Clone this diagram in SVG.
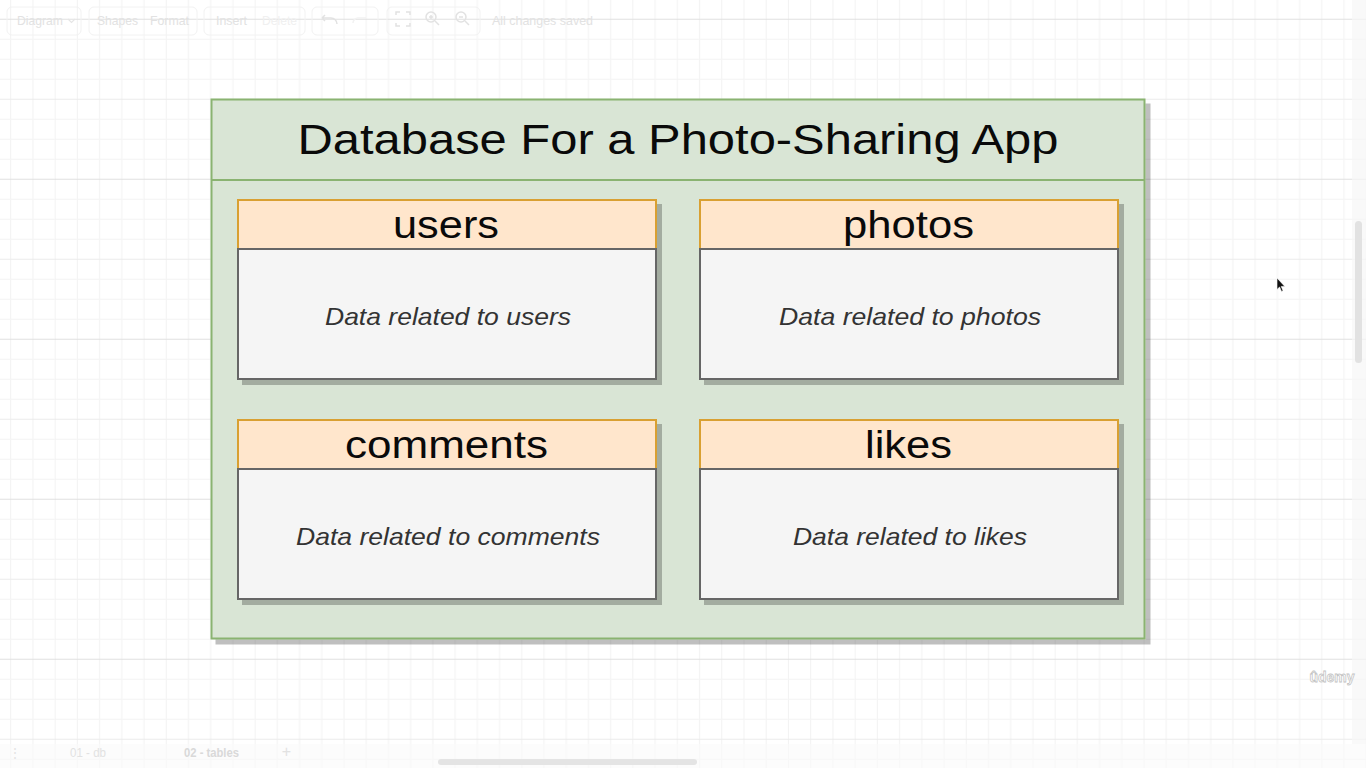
<svg xmlns="http://www.w3.org/2000/svg" width="1366" height="768" viewBox="0 0 1366 768">
<defs>
<pattern id="grid" patternUnits="userSpaceOnUse" x="0" y="0" width="88.89" height="160">
<path d="M10.7 0V160M32.9 0V160M55.1 0V160M77.3 0V160" stroke="#f2f2f2" stroke-width="1" fill="none"/>
<path d="M0 39.3H88.89M0 59.3H88.89M0 79.3H88.89M0 119.3H88.89M0 139.3H88.89M0 159.3H88.89" stroke="#f4f4f4" stroke-width="1" fill="none"/>
<path d="M0 99.3H88.89" stroke="#ebebeb" stroke-width="1" fill="none"/>
<path d="M0 19.3H88.89" stroke="#e0e0e0" stroke-width="1" fill="none"/>
</pattern>
<filter id="shadow" x="-5%" y="-5%" width="115%" height="120%">
<feDropShadow dx="5" dy="5" stdDeviation="0.6" flood-color="#000" flood-opacity="0.25"/>
</filter>
</defs>
<style>
.ui{font-family:"Liberation Sans",Arial,sans-serif;font-size:12px;fill:#e2e2e2}
.uibox{fill:none;stroke:#f2f2f2;stroke-width:1}
.title{font-family:"Liberation Sans",Arial,sans-serif;font-size:43px;fill:#0a0a0a;text-anchor:middle}
.hdr{fill:#ffe6cc;stroke:#d9a030;stroke-width:2}
.body{fill:#f5f5f5;stroke:#666;stroke-width:2}
.hname{font-family:"Liberation Sans",Arial,sans-serif;font-size:39px;fill:#0a0a0a;text-anchor:middle}
.desc{font-family:"Liberation Sans",Arial,sans-serif;font-size:24px;font-style:italic;fill:#333;text-anchor:middle}
</style>
<rect width="1366" height="768" fill="#ffffff"/>
<rect width="1366" height="768" fill="url(#grid)"/>

<g id="toolbar">
<rect class="uibox" x="7" y="7" width="74" height="28" rx="5"/>
<text class="ui" x="17" y="24.5" textLength="46" lengthAdjust="spacingAndGlyphs">Diagram</text>
<path d="M68 19l3.5 3.5 3.5-3.5" fill="none" stroke="#e6e6e6" stroke-width="1.2"/>
<rect class="uibox" x="89" y="7" width="108" height="28" rx="5"/>
<text class="ui" x="97" y="24.5" textLength="41" lengthAdjust="spacingAndGlyphs">Shapes</text>
<text class="ui" x="150" y="24.5" textLength="39" lengthAdjust="spacingAndGlyphs">Format</text>
<rect class="uibox" x="204" y="7" width="101" height="28" rx="5"/>
<text class="ui" x="216" y="24.5" textLength="31" lengthAdjust="spacingAndGlyphs">Insert</text>
<text class="ui" x="262" y="24.5" textLength="35" lengthAdjust="spacingAndGlyphs" style="fill:#f0f0f0">Delete</text>
<rect class="uibox" x="312" y="7" width="66" height="28" rx="5"/>
<path d="M322 18h9a6 6 0 0 1 6 6M322 18l3-3M322 18l3 3" fill="none" stroke="#e2e2e2" stroke-width="1.5"/>
<path d="M366 18h-8a5 5 0 0 0-5 5" fill="none" stroke="#f2f2f2" stroke-width="1.5"/>
<rect class="uibox" x="387" y="7" width="93" height="28" rx="5"/>
<path d="M396 15v-3h4M406 12h4v3M410 23v3h-4M400 26h-4v-3" fill="none" stroke="#e2e2e2" stroke-width="1.5"/>
<circle cx="431" cy="17" r="5" fill="none" stroke="#e2e2e2" stroke-width="1.5"/>
<path d="M435 21l4 4M429 17h4M431 15v4" fill="none" stroke="#e2e2e2" stroke-width="1.5"/>
<circle cx="461" cy="17" r="5" fill="none" stroke="#e2e2e2" stroke-width="1.5"/>
<path d="M465 21l4 4M459 17h4" fill="none" stroke="#e2e2e2" stroke-width="1.5"/>
<text class="ui" x="492" y="24.5" textLength="101" lengthAdjust="spacingAndGlyphs">All changes saved</text>
</g>

<g id="scrollbars">
<rect x="1352" y="0" width="14" height="744" fill="#f7f7f7" opacity="0.7"/>
<rect x="1355" y="221" width="7" height="142" rx="3.5" fill="#e2e2e2"/>
<rect x="0" y="744" width="1366" height="24" fill="#fafafa" opacity="0.6"/>
<rect x="438" y="759" width="259" height="6" rx="3" fill="#e4e4e4"/>
</g>

<g id="pages">
<text class="ui" x="15" y="757" text-anchor="middle">⋮</text>
<text class="ui" x="70" y="757" textLength="36" lengthAdjust="spacingAndGlyphs">01 - db</text>
<text class="ui" x="184" y="757" textLength="55" lengthAdjust="spacingAndGlyphs" style="font-weight:bold;fill:#d9d9d9">02 - tables</text>
<text class="ui" x="286.5" y="757" text-anchor="middle" style="font-size:16px">+</text>
</g>

<g id="db">
<g filter="url(#shadow)">
<rect x="211.5" y="99.5" width="933" height="539" fill="#d9e5d5" stroke="#8ab371" stroke-width="2"/>
<line x1="211.5" y1="180" x2="1144.5" y2="180" stroke="#8ab371" stroke-width="2"/>
</g>
<text class="title" x="678" y="154" textLength="761" lengthAdjust="spacingAndGlyphs">Database For a Photo-Sharing App</text>
</g>

<g id="users">
<g filter="url(#shadow)">
<rect class="hdr" x="238" y="200" width="418" height="49"/>
<rect class="body" x="238" y="249" width="418" height="130"/>
</g>
<text class="hname" x="446" y="237.5" textLength="106" lengthAdjust="spacingAndGlyphs">users</text>
<text class="desc" x="448" y="325" textLength="246" lengthAdjust="spacingAndGlyphs">Data related to users</text>
</g>

<g id="photos">
<g filter="url(#shadow)">
<rect class="hdr" x="700" y="200" width="418" height="49"/>
<rect class="body" x="700" y="249" width="418" height="130"/>
</g>
<text class="hname" x="908.5" y="237.5" textLength="131" lengthAdjust="spacingAndGlyphs">photos</text>
<text class="desc" x="910" y="325" textLength="262" lengthAdjust="spacingAndGlyphs">Data related to photos</text>
</g>

<g id="comments">
<g filter="url(#shadow)">
<rect class="hdr" x="238" y="420" width="418" height="49"/>
<rect class="body" x="238" y="469" width="418" height="130"/>
</g>
<text class="hname" x="446.5" y="457.5" textLength="203" lengthAdjust="spacingAndGlyphs">comments</text>
<text class="desc" x="448" y="545" textLength="304" lengthAdjust="spacingAndGlyphs">Data related to comments</text>
</g>

<g id="likes">
<g filter="url(#shadow)">
<rect class="hdr" x="700" y="420" width="418" height="49"/>
<rect class="body" x="700" y="469" width="418" height="130"/>
</g>
<text class="hname" x="908.5" y="457.5" textLength="87" lengthAdjust="spacingAndGlyphs">likes</text>
<text class="desc" x="910" y="545" textLength="234" lengthAdjust="spacingAndGlyphs">Data related to likes</text>
</g>

<g id="connectors"></g>

<g id="overlay">
<text x="1332" y="682" text-anchor="middle" style="font-family:'Liberation Sans',Arial,sans-serif;font-size:15px;font-weight:bold;fill:#ffffff;stroke:#c4c4c4;stroke-width:0.8" textLength="45" lengthAdjust="spacingAndGlyphs">ûdemy</text>
<path d="M1277 278v11.5l2.6-2.5 1.9 4.4 1.6-0.7-1.9-4.3h3.6z" fill="#111" stroke="#fff" stroke-width="0.6"/>
</g>
</svg>
